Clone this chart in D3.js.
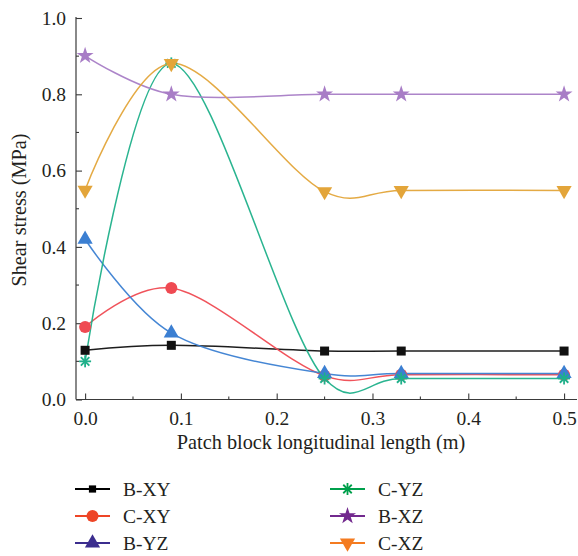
<!DOCTYPE html>
<html>
<head>
<meta charset="utf-8">
<script src="https://cdn.jsdelivr.net/npm/d3@7"></script>
<style>
  html, body { margin: 0; padding: 0; background: #fff; }
  svg { display: block; }
  text { font-family: "Liberation Serif", "Times New Roman", serif; fill: #231f20; }
</style>
</head>
<body>
<svg id="chart" width="578" height="556"></svg>
<script>
// Patch block longitudinal length (m)
const lengths = [0, 0.09, 0.25, 0.33, 0.5];

// Shear stress (MPa) per series
const seriesNames = ["B-XY", "C-XY", "B-YZ", "C-YZ", "B-XZ", "C-XZ"];
const bXY = [0.129, 0.142, 0.127, 0.127, 0.127];
const cXY = [0.190, 0.292, 0.062, 0.065, 0.065];
const bYZ = [0.420, 0.174, 0.068, 0.068, 0.068];
const cYZ = [0.100, 0.881, 0.055, 0.055, 0.055];
const bXZ = [0.901, 0.800, 0.800, 0.800, 0.800];
const cXZ = [0.549, 0.881, 0.545, 0.548, 0.548];
const seriesValues = [bXY, cXY, bYZ, cYZ, bXZ, cXZ];

const xTicks = [0, 0.1, 0.2, 0.3, 0.4, 0.5];
const yTicks = [0, 0.2, 0.4, 0.6, 0.8, 1.0];

// Styling
const lineColors   = ["#111111", "#ef4a52", "#3b7fd2", "#1fb08a", "#a87dc6", "#e3a53a"];
const legendColors = ["#000000", "#ee4526", "#3b2d8e", "#00a04c", "#72298e", "#f47b20"];
const markerTypes  = ["square", "circle", "triangle", "asterisk", "star", "triangleDown"];

const svg = d3.select("#chart");
const plotLeft = 76, plotRight = 577, plotTop = 18, plotBottom = 399.5;

const x = d3.scaleLinear().domain([-0.0095, 0.5135]).range([plotLeft, plotRight]);
const y = d3.scaleLinear().domain([0, 1]).range([plotBottom, plotTop]);

// Axes (ticks pointing inward)
const xAxis = d3.axisBottom(x).tickValues(xTicks).tickFormat(d3.format(".1f"))
  .tickSizeInner(-6).tickSizeOuter(0).tickPadding(12);
const yAxis = d3.axisLeft(y).tickValues(yTicks).tickFormat(d3.format(".1f"))
  .tickSizeInner(-6).tickSizeOuter(0).tickPadding(10);

const gx = svg.append("g").attr("transform", `translate(0,${plotBottom})`).call(xAxis);
const gy = svg.append("g").attr("transform", `translate(${plotLeft},0)`).call(yAxis);

[gx, gy].forEach(g => {
  g.select(".domain").attr("stroke", "#3a3a3a").attr("stroke-width", 1.2);
  g.selectAll(".tick line").attr("stroke", "#3a3a3a").attr("stroke-width", 1.1);
  g.selectAll(".tick text").style("font-size", "19.5px").attr("fill", "#231f20");
});
gy.select(".domain").attr("d", `M0,${plotBottom}V${plotTop - 1}`);
gx.select(".domain").attr("d", `M${plotLeft},0H${plotRight}`);

// Minor ticks
const xMinor = d3.range(0.05, 0.5, 0.1);
const yMinor = d3.range(0.1, 1.0, 0.2);
svg.append("g").selectAll("line").data(xMinor).join("line")
  .attr("x1", d => x(d)).attr("x2", d => x(d))
  .attr("y1", plotBottom).attr("y2", plotBottom - 3)
  .attr("stroke", "#3a3a3a").attr("stroke-width", 1.1);
svg.append("g").selectAll("line").data(yMinor).join("line")
  .attr("x1", plotLeft).attr("x2", plotLeft + 3)
  .attr("y1", d => y(d)).attr("y2", d => y(d))
  .attr("stroke", "#3a3a3a").attr("stroke-width", 1.1);

// Axis titles
svg.append("text")
  .attr("x", 321).attr("y", 449)
  .attr("text-anchor", "middle")
  .style("font-size", "20.3px")
  .text("Patch block longitudinal length (m)");
svg.append("text")
  .attr("transform", `translate(26,${210}) rotate(-90)`)
  .attr("text-anchor", "middle")
  .style("font-size", "20.3px")
  .text("Shear stress (MPa)");

// Marker drawing
function marker(g, type, color, size) {
  const s = size;
  switch (type) {
    case "square":
      g.append("rect").attr("x", -s * 0.45).attr("y", -s * 0.45)
        .attr("width", s * 0.9).attr("height", s * 0.9).attr("fill", color);
      break;
    case "circle":
      g.append("circle").attr("r", s * 0.6).attr("fill", color);
      break;
    case "triangle":
      g.append("path").attr("d", d3.symbol(d3.symbolTriangle, s * s * 1.0)()).attr("fill", color);
      break;
    case "triangleDown":
      g.append("path").attr("d", d3.symbol(d3.symbolTriangle, s * s * 1.0)())
        .attr("transform", "rotate(180)").attr("fill", color);
      break;
    case "star":
      g.append("path").attr("d", d3.symbol(d3.symbolStar, s * s * 0.9)()).attr("fill", color);
      break;
    case "asterisk": {
      const r = s * 0.6;
      for (let k = 0; k < 4; k++) {
        const a = k * Math.PI / 4;
        g.append("line")
          .attr("x1", -r * Math.sin(a)).attr("y1", -r * Math.cos(a))
          .attr("x2", r * Math.sin(a)).attr("y2", r * Math.cos(a))
          .attr("stroke", color).attr("stroke-width", 1.8);
      }
      break;
    }
  }
}

// Series curves (Catmull-Rom smoothing through the points)
const line = d3.line()
  .x((d, i) => x(lengths[i]))
  .y(d => y(d))
  .curve(d3.curveCatmullRom.alpha(0.2));

const plot = svg.append("g");
seriesValues.forEach((vals, si) => {
  plot.append("path")
    .attr("d", line(vals))
    .attr("fill", "none")
    .attr("stroke", lineColors[si])
    .attr("stroke-width", 1.5)
    .attr("opacity", 0.95);
});
seriesValues.forEach((vals, si) => {
  vals.forEach((v, i) => {
    const g = plot.append("g").attr("transform", `translate(${x(lengths[i])},${y(v)})`);
    marker(g, markerTypes[si], lineColors[si], 10);
  });
});

// Legend
const legendCols = [75, 330];
const legendRows = [489, 516, 543];
seriesNames.forEach((name, si) => {
  const col = Math.floor(si / 3), row = si % 3;
  const lx = legendCols[col], ly = legendRows[row];
  const g = svg.append("g").attr("transform", `translate(${lx},${ly})`);
  g.append("line").attr("x1", 0).attr("x2", 35).attr("y1", 0).attr("y2", 0)
    .attr("stroke", legendColors[si]).attr("stroke-width", 2.2);
  const m = g.append("g").attr("transform", "translate(17.5,0)");
  marker(m, markerTypes[si], legendColors[si], si === 0 ? 8 : 10);
  g.append("text").attr("x", 48).attr("y", 7)
    .style("font-size", "19.5px").text(name);
});
</script>
</body>
</html>
